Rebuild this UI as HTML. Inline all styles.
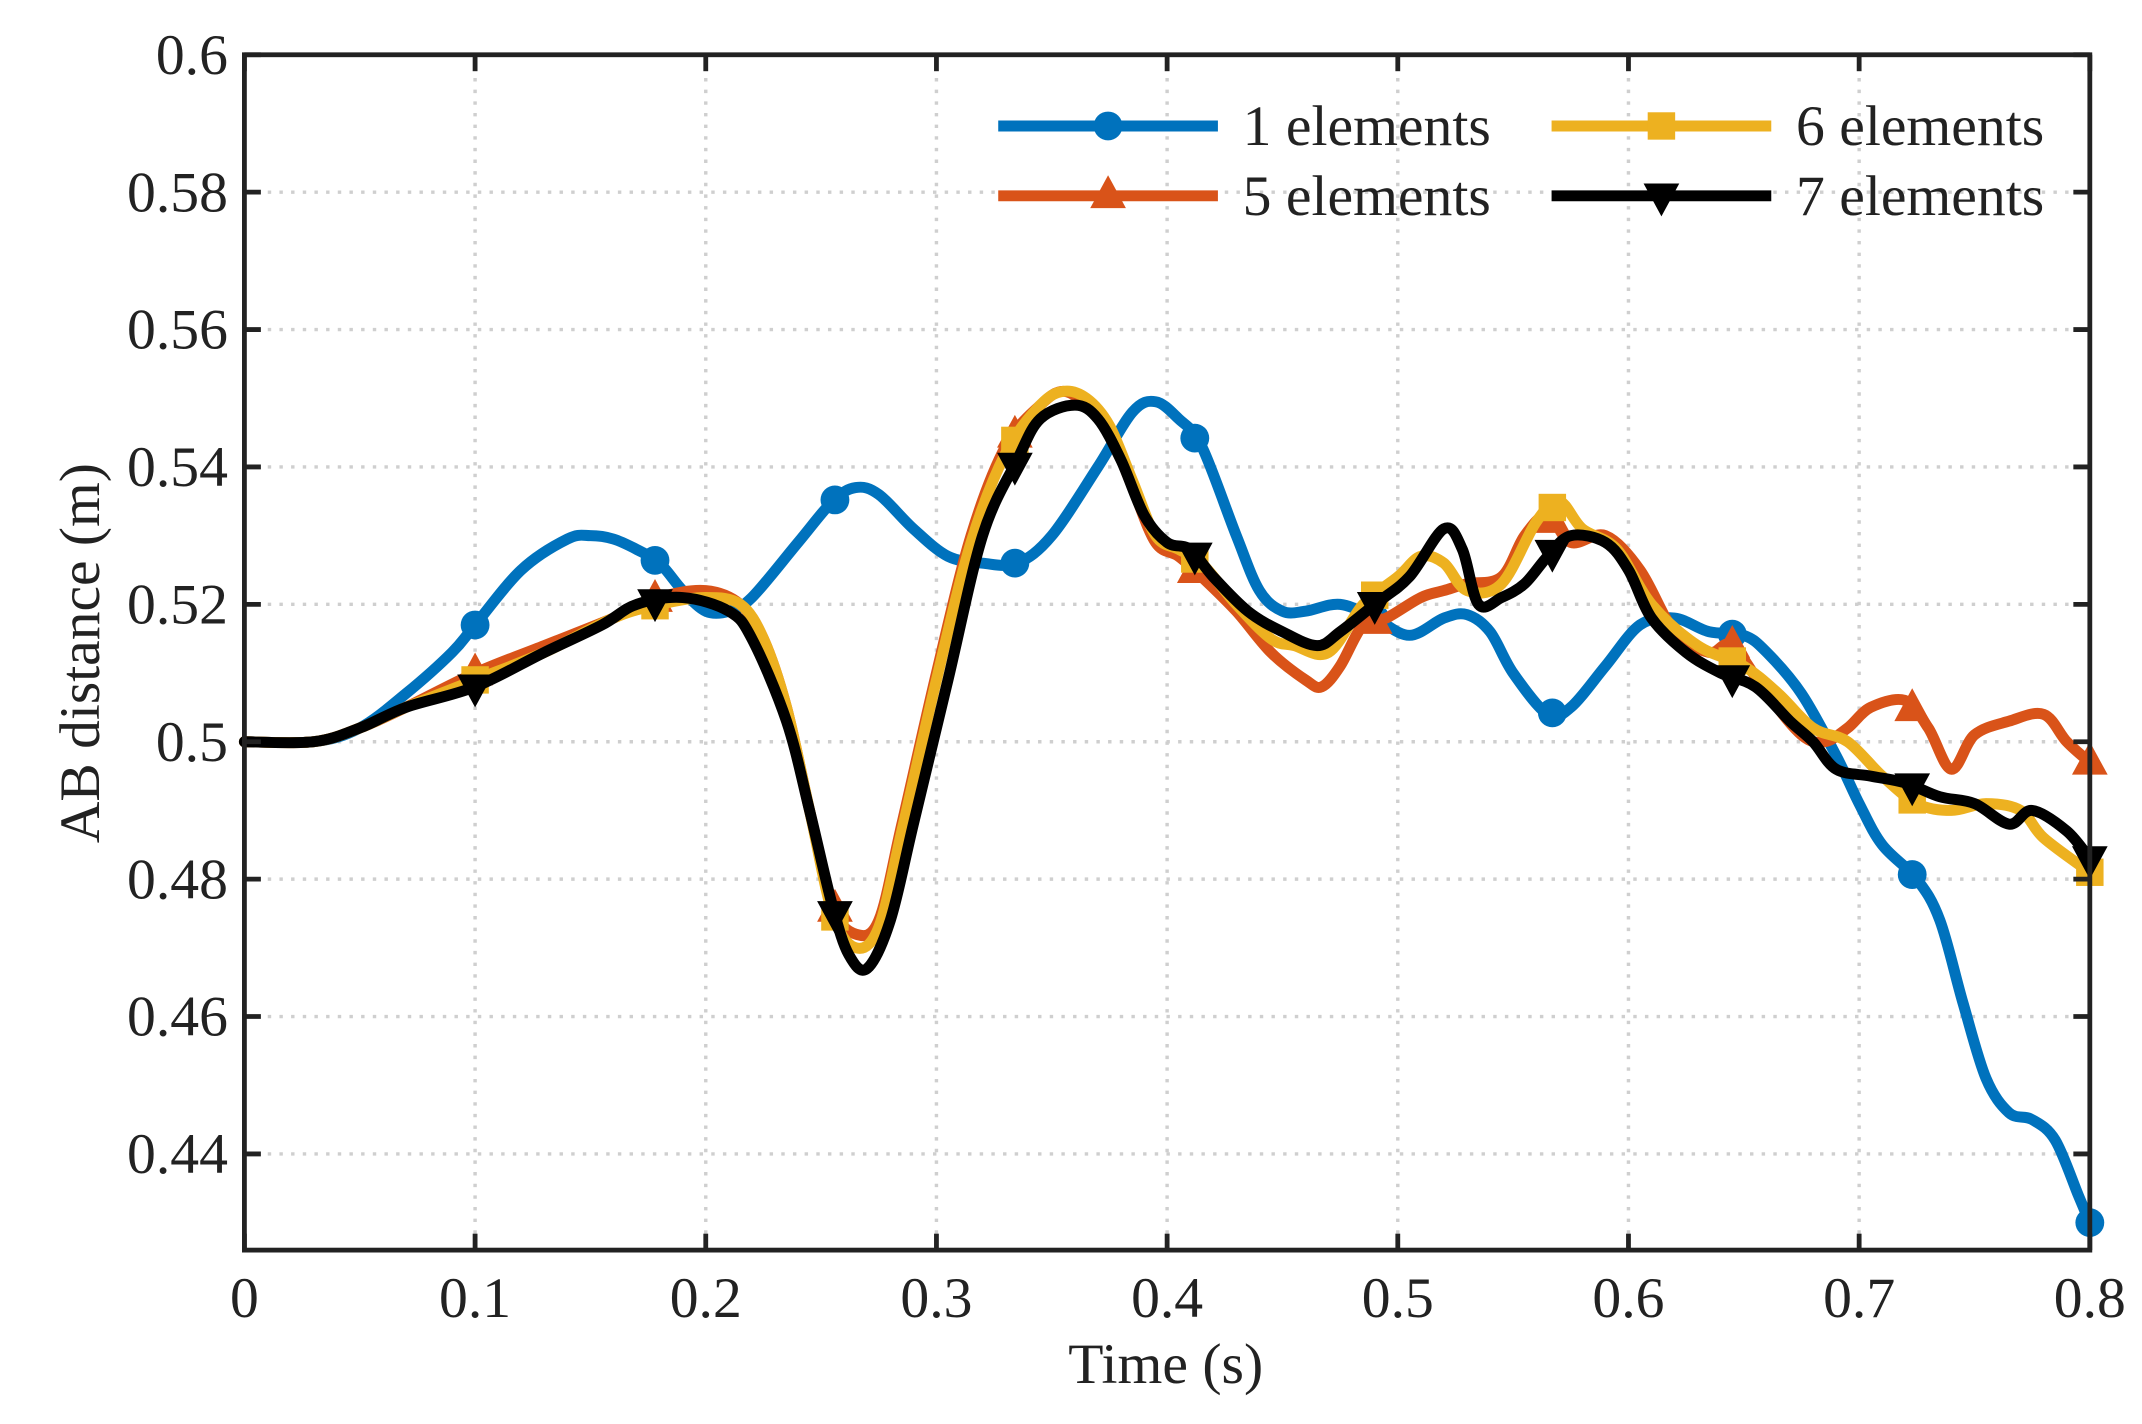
<!DOCTYPE html>
<html><head><meta charset="utf-8"><style>
html,body{margin:0;padding:0;background:#fff;}
svg{display:block;}
text{font-family:"Liberation Serif",serif;fill:#222;}
</style></head><body>
<svg id="chart" width="2142" height="1424" viewBox="0 0 1560 1040" preserveAspectRatio="none" xmlns="http://www.w3.org/2000/svg">
<g id="grid"></g>
<g id="series"></g>
<g id="axes"></g>
<g id="legend"></g>
</svg>
<script>
const xTicks=[0,0.1,0.2,0.3,0.4,0.5,0.6,0.7,0.8];
const xTickLabels=["0","0.1","0.2","0.3","0.4","0.5","0.6","0.7","0.8"];
const yTicks=[0.44,0.46,0.48,0.5,0.52,0.54,0.56,0.58,0.6];
const yTickLabels=["0.44","0.46","0.48","0.5","0.52","0.54","0.56","0.58","0.6"];
const markerX=[0.1,0.178,0.256,0.334,0.412,0.49,0.567,0.645,0.723,0.8];
const s1x=[0,0.03,0.05,0.07,0.09,0.1,0.12,0.14,0.15,0.16,0.17,0.18,0.19,0.2,0.21,0.22,0.24,0.255,0.265,0.275,0.29,0.305,0.32,0.335,0.35,0.37,0.385,0.395,0.405,0.415,0.43,0.44,0.45,0.46,0.475,0.49,0.505,0.52,0.53,0.54,0.55,0.565,0.575,0.59,0.605,0.62,0.635,0.65,0.66,0.675,0.69,0.7,0.71,0.725,0.735,0.745,0.755,0.765,0.775,0.785,0.795,0.8];
const s1y=[0.5,0.5,0.502,0.507,0.513,0.517,0.525,0.5295,0.53,0.5295,0.528,0.526,0.522,0.519,0.519,0.521,0.529,0.535,0.537,0.536,0.531,0.527,0.526,0.526,0.53,0.54,0.548,0.5495,0.547,0.543,0.53,0.522,0.519,0.519,0.52,0.518,0.5155,0.518,0.5185,0.516,0.51,0.504,0.505,0.511,0.517,0.518,0.516,0.5155,0.513,0.507,0.498,0.491,0.485,0.48,0.474,0.462,0.451,0.446,0.445,0.442,0.434,0.43];
const s5x=[0,0.03,0.05,0.07,0.1,0.13,0.16,0.18,0.2,0.215,0.225,0.235,0.245,0.255,0.265,0.275,0.285,0.3,0.315,0.33,0.345,0.355,0.365,0.375,0.385,0.395,0.405,0.415,0.43,0.445,0.46,0.467,0.475,0.485,0.495,0.51,0.52,0.53,0.545,0.555,0.565,0.575,0.59,0.605,0.62,0.635,0.645,0.66,0.675,0.685,0.695,0.705,0.72,0.73,0.74,0.75,0.765,0.78,0.79,0.8];
const s5y=[0.5,0.5,0.502,0.505,0.51,0.514,0.518,0.521,0.522,0.52,0.515,0.505,0.49,0.476,0.472,0.474,0.488,0.51,0.53,0.543,0.549,0.551,0.549,0.545,0.537,0.529,0.527,0.524,0.519,0.513,0.509,0.508,0.511,0.517,0.518,0.521,0.522,0.523,0.524,0.53,0.533,0.529,0.53,0.525,0.516,0.513,0.514,0.507,0.501,0.5,0.502,0.505,0.506,0.502,0.496,0.501,0.503,0.504,0.5,0.497];
const s6x=[0,0.03,0.05,0.07,0.1,0.13,0.16,0.18,0.2,0.215,0.225,0.235,0.245,0.255,0.265,0.275,0.285,0.3,0.315,0.33,0.345,0.355,0.365,0.375,0.385,0.395,0.405,0.415,0.43,0.445,0.455,0.47,0.485,0.5,0.51,0.52,0.53,0.545,0.56,0.57,0.58,0.595,0.61,0.63,0.65,0.665,0.68,0.695,0.71,0.725,0.74,0.755,0.77,0.78,0.8];
const s6y=[0.5,0.5,0.502,0.505,0.509,0.513,0.518,0.52,0.521,0.52,0.515,0.505,0.49,0.475,0.47,0.473,0.487,0.509,0.529,0.542,0.549,0.551,0.55,0.546,0.538,0.53,0.528,0.526,0.52,0.515,0.514,0.513,0.52,0.524,0.527,0.526,0.522,0.523,0.532,0.535,0.531,0.528,0.52,0.514,0.511,0.507,0.502,0.5,0.495,0.491,0.49,0.491,0.49,0.486,0.481];
const s7x=[0,0.03,0.05,0.07,0.1,0.13,0.155,0.17,0.19,0.21,0.22,0.235,0.245,0.255,0.262,0.27,0.28,0.29,0.305,0.32,0.335,0.345,0.36,0.37,0.38,0.39,0.4,0.41,0.42,0.435,0.45,0.465,0.475,0.49,0.505,0.52,0.528,0.535,0.545,0.555,0.565,0.575,0.59,0.6,0.61,0.625,0.64,0.655,0.67,0.68,0.69,0.705,0.72,0.735,0.75,0.765,0.775,0.79,0.8];
const s7y=[0.5,0.5,0.502,0.505,0.508,0.513,0.517,0.52,0.521,0.519,0.515,0.503,0.49,0.476,0.469,0.467,0.474,0.488,0.509,0.53,0.541,0.547,0.549,0.547,0.541,0.533,0.529,0.528,0.524,0.519,0.516,0.514,0.516,0.52,0.524,0.531,0.528,0.52,0.521,0.523,0.527,0.53,0.529,0.525,0.518,0.513,0.51,0.508,0.503,0.5,0.496,0.495,0.494,0.492,0.491,0.488,0.49,0.487,0.483];

const NS="http://www.w3.org/2000/svg";
const L=178,R=1522,T=40,B=913;
const X0=0,X1=0.8,Y0=0.426,Y1=0.6;
function sx(v){return L+(v-X0)/(X1-X0)*(R-L);}
function sy(v){return B-(v-Y0)/(Y1-Y0)*(B-T);}
function mk(tag,attrs,parent){const e=document.createElementNS(NS,tag);for(const k in attrs)e.setAttribute(k,attrs[k]);parent.appendChild(e);return e;}
function interp(xs,ys,x){for(let i=1;i<xs.length;i++){if(x<=xs[i]){const t=(x-xs[i-1])/(xs[i]-xs[i-1]);return ys[i-1]+t*(ys[i]-ys[i-1]);}}return ys[ys.length-1];}
function smoothPath(p){
  let d='M'+p[0][0].toFixed(1)+','+p[0][1].toFixed(1);
  for(let i=0;i<p.length-1;i++){
    const p0=p[Math.max(0,i-1)],p1=p[i],p2=p[i+1],p3=p[Math.min(p.length-1,i+2)];
    const c1x=p1[0]+(p2[0]-p0[0])/6,c1y=p1[1]+(p2[1]-p0[1])/6;
    const c2x=p2[0]-(p3[0]-p1[0])/6,c2y=p2[1]-(p3[1]-p1[1])/6;
    d+=` C${c1x.toFixed(1)},${c1y.toFixed(1)} ${c2x.toFixed(1)},${c2y.toFixed(1)} ${p2[0].toFixed(1)},${p2[1].toFixed(1)}`;
  }
  return d;
}

const grid=document.getElementById('grid');
xTicks.forEach((t,i)=>{if(i===0||i===xTicks.length-1)return;
  const g=mk('line',{x1:sx(t),x2:sx(t),y1:T,y2:B,stroke:'#cfcfcf','stroke-width':2.5,'stroke-dasharray':'2.5 6'},grid);
  
  });
yTicks.forEach(t=>{
  const g=mk('line',{x1:L,x2:R,y1:sy(t),y2:sy(t),stroke:'#cfcfcf','stroke-width':2.5,'stroke-dasharray':'2.5 6'},grid);
  
  });

const series=[
 {name:'1 elements',xs:s1x,ys:s1y,color:'#0072BD',m:'circle',key:'series-1-elements'},
 {name:'5 elements',xs:s5x,ys:s5y,color:'#D95319',m:'tri-up',key:'series-5-elements'},
 {name:'6 elements',xs:s6x,ys:s6y,color:'#EDB120',m:'square',key:'series-6-elements'},
 {name:'7 elements',xs:s7x,ys:s7y,color:'#000000',m:'tri-down',key:'series-7-elements'}
];
function marker(type,cx,cy,color,parent){
  let e;
  if(type==='circle')e=mk('circle',{cx:cx,cy:cy,r:10.5,fill:color},parent);
  else if(type==='square')e=mk('rect',{x:cx-10,y:cy-10,width:20,height:20,fill:color},parent);
  else if(type==='tri-up')e=mk('polygon',{points:`${cx},${cy-15} ${cx-13},${cy+9} ${cx+13},${cy+9}`,fill:color},parent);
  else e=mk('polygon',{points:`${cx},${cy+15} ${cx-13},${cy-9} ${cx+13},${cy-9}`,fill:color},parent);
  return e;
}
const sg=document.getElementById('series');
series.forEach(s=>{
  const g=mk('g',{},sg);
  
  
  const pts=s.xs.map((x,i)=>[sx(x),sy(s.ys[i])]);
  const pl=mk('path',{d:smoothPath(pts),fill:'none',stroke:s.color,'stroke-width':8,'stroke-linejoin':'round','stroke-linecap':'round'},g);
  
  
  markerX.forEach(mx=>{
    const m=marker(s.m,sx(mx),sy(interp(s.xs,s.ys,mx)),s.color,g);
    
    
  });
});

const ax=document.getElementById('axes');
const box=mk('rect',{x:L,y:T,width:R-L,height:B-T,fill:'none',stroke:'#222','stroke-width':3.5},ax);


xTicks.forEach((t,i)=>{
  mk('line',{x1:sx(t),x2:sx(t),y1:B,y2:B-12,stroke:'#222','stroke-width':3.5},ax);
  mk('line',{x1:sx(t),x2:sx(t),y1:T,y2:T+12,stroke:'#222','stroke-width':3.5},ax);
  const tx=mk('text',{x:sx(t),y:962,'text-anchor':'middle','font-size':42},ax);
  tx.textContent=xTickLabels[i];
  
  
});
yTicks.forEach((t,i)=>{
  mk('line',{x1:L,x2:L+12,y1:sy(t),y2:sy(t),stroke:'#222','stroke-width':3.5},ax);
  mk('line',{x1:R,x2:R-12,y1:sy(t),y2:sy(t),stroke:'#222','stroke-width':3.5},ax);
  const tx=mk('text',{x:166,y:sy(t)+14,'text-anchor':'end','font-size':42},ax);
  tx.textContent=yTickLabels[i];
  
  
});
const xt=mk('text',{x:849,y:1010,'text-anchor':'middle','font-size':42},ax);
xt.textContent='Time (s)';


const yt=mk('text',{x:0,y:0,'text-anchor':'middle','font-size':42,transform:'translate(72,477) rotate(-90)'},ax);
yt.textContent='AB distance (m)';



const lg=document.getElementById('legend');
const lpos=[[727,92],[727,143],[1130,92],[1130,143]];
[0,1,2,3].forEach(i=>{
  const s=series[i];const [lx,ly]=lpos[i];
  const g=mk('g',{},lg);
  
  
  mk('line',{x1:lx,x2:lx+160,y1:ly,y2:ly,stroke:s.color,'stroke-width':8}, g);
  marker(s.m,lx+80,ly,s.color,g);
  const t=mk('text',{x:lx+178,y:ly+14,'font-size':42},g);
  t.textContent=s.name;
});
</script>
</body></html>
